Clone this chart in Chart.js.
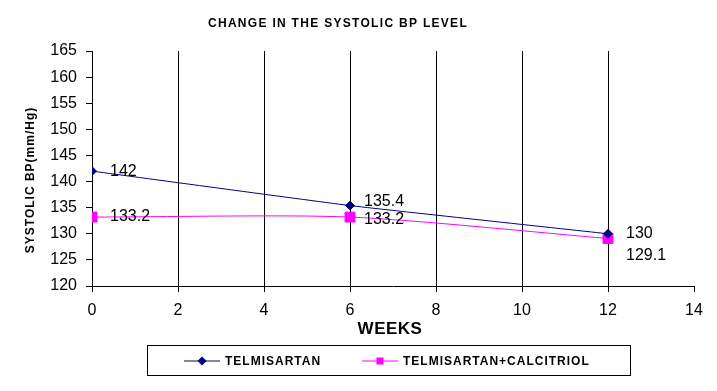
<!DOCTYPE html>
<html>
<head>
<meta charset="utf-8">
<script src="https://cdn.jsdelivr.net/npm/chart.js@4/dist/chart.umd.min.js"></script>
<style>
  html, body { margin: 0; padding: 0; background: #fff; }
  #wrap { width: 717px; height: 391px; }
</style>
</head>
<body>
<div id="wrap"><canvas id="bpChart" width="717" height="391"></canvas></div>
<script>
// chart data
const weeks = [0, 6, 12];
const telmisartan = [142, 135.4, 130];
const telmiCalcitriol = [133.2, 133.2, 129.1];
const seriesNames = ['TELMISARTAN', 'TELMISARTAN+CALCITRIOL'];
const xTicks = [0, 2, 4, 6, 8, 10, 12, 14];
const yTicks = [120, 125, 130, 135, 140, 145, 150, 155, 160, 165];

const NAVY = '#000080';
const MAGENTA = '#FF00FF';
const FONT = '"Liberation Sans", Arial, sans-serif';

// label offsets (px) for each point's value label, per series
const labelOffsets = [
    [[18, 0], [14, -4], [18, 0]],
    [[18, 0], [14, 3], [18, 17]]
];

function toPoints(vals) {
    return weeks.map((w, i) => ({ x: w, y: vals[i] }));
}

// draws title, axis titles, value labels and the boxed legend
const extras = {
    id: 'extras',
    afterDatasetsDraw(chart) {
        const ctx = chart.ctx;
        ctx.save();
        ctx.fillStyle = '#000';
        ctx.textAlign = 'center';
        ctx.textBaseline = 'middle';

        // title
        ctx.font = 'bold 12px ' + FONT;
        ctx.letterSpacing = '1.3px';
        ctx.fillText('CHANGE IN THE SYSTOLIC BP LEVEL', 338, 24);

        // axis titles
        ctx.font = 'bold 17px ' + FONT;
        ctx.letterSpacing = '0.5px';
        ctx.fillText('WEEKS', 390, 329);
        ctx.save();
        ctx.translate(31, 180);
        ctx.rotate(-Math.PI / 2);
        ctx.font = 'bold 12px ' + FONT;
        ctx.letterSpacing = '1px';
        ctx.fillText('SYSTOLIC BP(mm/Hg)', 0, 0);
        ctx.restore();

        // value labels
        ctx.font = '16px ' + FONT;
        ctx.letterSpacing = '0px';
        ctx.textAlign = 'left';
        chart.data.datasets.forEach((ds, di) => {
            const meta = chart.getDatasetMeta(di);
            meta.data.forEach((pt, i) => {
                const off = labelOffsets[di][i];
                ctx.fillText(String(ds.data[i].y), pt.x + off[0], pt.y + off[1]);
            });
        });

        // legend box
        ctx.strokeStyle = '#000';
        ctx.lineWidth = 1;
        ctx.strokeRect(147.5, 345.5, 483, 30);
        const items = [
            { x: 184, color: NAVY, style: 'rectRot', r: 4.5 },
            { x: 362, color: MAGENTA, style: 'rect', r: 3.5 }
        ];
        ctx.font = 'bold 12px ' + FONT;
        ctx.letterSpacing = '1px';
        items.forEach((it, i) => {
            const y = 361;
            const cx = it.x + 18;
            ctx.strokeStyle = it.color;
            ctx.beginPath();
            ctx.moveTo(it.x, y);
            ctx.lineTo(it.x + 36, y);
            ctx.stroke();
            ctx.fillStyle = it.color;
            if (it.style === 'rect') {
                ctx.fillRect(cx - it.r, y - it.r, it.r * 2, it.r * 2);
            } else {
                ctx.beginPath();
                ctx.moveTo(cx, y - it.r);
                ctx.lineTo(cx + it.r, y);
                ctx.lineTo(cx, y + it.r);
                ctx.lineTo(cx - it.r, y);
                ctx.closePath();
                ctx.fill();
            }
            ctx.fillStyle = '#000';
            ctx.fillText(seriesNames[i], it.x + 41, y + 1);
        });
        ctx.restore();
    }
};

new Chart(document.getElementById('bpChart'), {
    type: 'line',
    data: {
        datasets: [
            {
                label: seriesNames[0],
                data: toPoints(telmisartan),
                borderColor: NAVY,
                backgroundColor: NAVY,
                borderWidth: 1,
                pointStyle: 'rectRot',
                pointRadius: 4.5,
                pointHoverRadius: 4.5,
                tension: 0.1
            },
            {
                label: seriesNames[1],
                data: toPoints(telmiCalcitriol),
                borderColor: MAGENTA,
                backgroundColor: MAGENTA,
                borderWidth: 1,
                pointStyle: 'rect',
                pointRadius: 7,
                pointHoverRadius: 7,
                tension: 0.25
            }
        ]
    },
    options: {
        responsive: false,
        animation: false,
        events: [],
        layout: { padding: { left: 0, right: 23, top: 51, bottom: 0 } },
        plugins: {
            legend: { display: false },
            title: { display: false },
            tooltip: { enabled: false }
        },
        scales: {
            x: {
                type: 'linear',
                min: 0,
                max: 14,
                afterBuildTicks: s => { s.ticks = xTicks.map(v => ({ value: v })); },
                afterFit: s => { s.height = 105; },
                border: { display: true, color: '#000', width: 1 },
                grid: {
                    drawOnChartArea: true,
                    color: c => (c.tick && (c.tick.value === 0 || c.tick.value === 14)) ? 'rgba(0,0,0,0)' : '#000',
                    tickColor: '#000',
                    tickLength: 6,
                    lineWidth: 1
                },
                ticks: {
                    color: '#000',
                    padding: 9,
                    font: { family: FONT, size: 16 }
                }
            },
            y: {
                min: 120,
                max: 165,
                afterBuildTicks: s => { s.ticks = yTicks.map(v => ({ value: v })); },
                afterFit: s => { s.width = 92; },
                border: { display: true, color: '#000', width: 1 },
                grid: {
                    drawOnChartArea: false,
                    tickColor: '#000',
                    tickLength: 6
                },
                ticks: {
                    color: '#000',
                    padding: 9,
                    font: { family: FONT, size: 16 }
                }
            }
        }
    },
    plugins: [extras]
});
</script>
</body>
</html>
